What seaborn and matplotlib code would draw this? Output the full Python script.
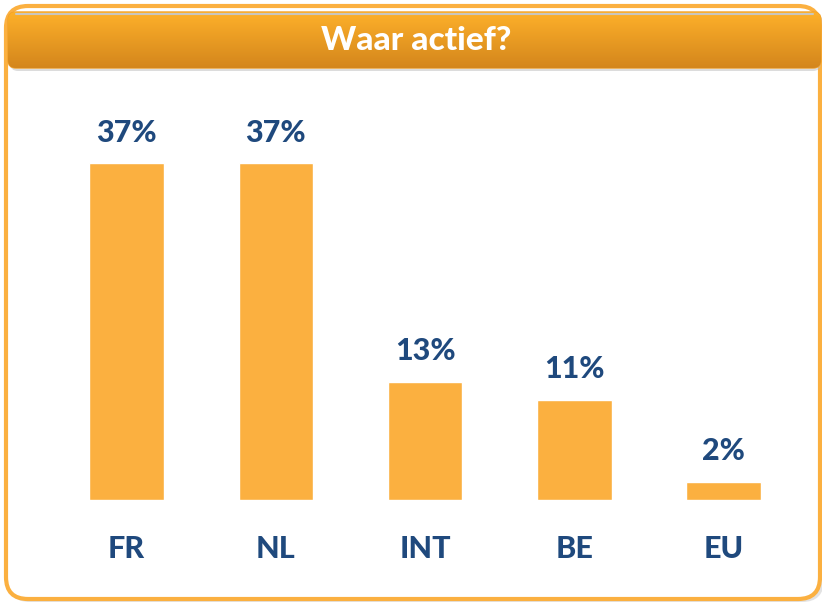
import numpy as np
import pandas as pd
import seaborn as sns
import matplotlib.pyplot as plt
from matplotlib.patches import FancyBboxPatch

# data
regions = ["FR", "NL", "INT", "BE", "EU"]
shares = [37, 37, 13, 11, 2]
title = "Waar actief?"

bar_color = "#FBB040"
text_color = "#1F497D"

sns.set_style("white")
plt.rcParams['font.family'] = ['Lato', 'DejaVu Sans']

W, H = 822, 603
fig = plt.figure(figsize=(W / 100, H / 100), dpi=100)

# background layer in pixel coords
bg = fig.add_axes([0, 0, 1, 1])
bg.set_xlim(0, W)
bg.set_ylim(H, 0)
bg.axis("off")

# shadow + outer rounded frame
shadow = FancyBboxPatch((8, 8), 816, 594, boxstyle="round,pad=0,rounding_size=22",
                        fc="#d0d0d0", ec="none", alpha=0.6)
bg.add_patch(shadow)
frame = FancyBboxPatch((6, 6), 814, 593, boxstyle="round,pad=0,rounding_size=22",
                       fc="white", ec=bar_color, lw=3)
bg.add_patch(frame)

# header shadow
bg.add_patch(FancyBboxPatch((10, 15), 811, 56, boxstyle="round,pad=0,rounding_size=8",
                            fc="#bbbbbb", ec="none", alpha=0.5))
# header with vertical gradient
hdr = FancyBboxPatch((8, 12), 813, 56, boxstyle="round,pad=0,rounding_size=8",
                     fc="none", ec="#F2A12A", lw=1)
bg.add_patch(hdr)
grad = np.linspace(0, 1, 100).reshape(-1, 1)
cmap = plt.matplotlib.colors.LinearSegmentedColormap.from_list("hdr", ["#FDB02A", "#D4861C"])
im = bg.imshow(grad, extent=(8, 821, 68, 12), cmap=cmap, aspect="auto", zorder=1)
im.set_clip_path(hdr)
bg.plot([16, 813], [14, 14], color="#C9C6BE", lw=1.5, zorder=2)
bg.text(416, 41, title, color="white", fontsize=24, fontweight="black",
        ha="center", va="center", zorder=3)

# bar chart
ax = fig.add_axes([52 / W, (H - 500) / H, 746 / W, 364 / H])
df = pd.DataFrame({"region": regions, "share": shares})
sns.barplot(data=df, x="region", y="share", color=bar_color, saturation=1,
            width=0.5, ax=ax)
ax.set_xlim(-0.5, 4.5)
ax.set_ylim(0, 40)
ax.axis("off")
ax.patch.set_alpha(0)

for i, v in enumerate(shares):
    ax.annotate(f"{v}%", (i, v), xytext=(0, 22), textcoords="offset points",
                ha="center", va="center", fontsize=22, fontweight="black",
                color=text_color)
    ax.annotate(regions[i], (i, 0), xytext=(0, -35), textcoords="offset points",
                ha="center", va="center", fontsize=22, fontweight="black",
                color=text_color, annotation_clip=False)

fig.savefig("out.png", dpi=100)
